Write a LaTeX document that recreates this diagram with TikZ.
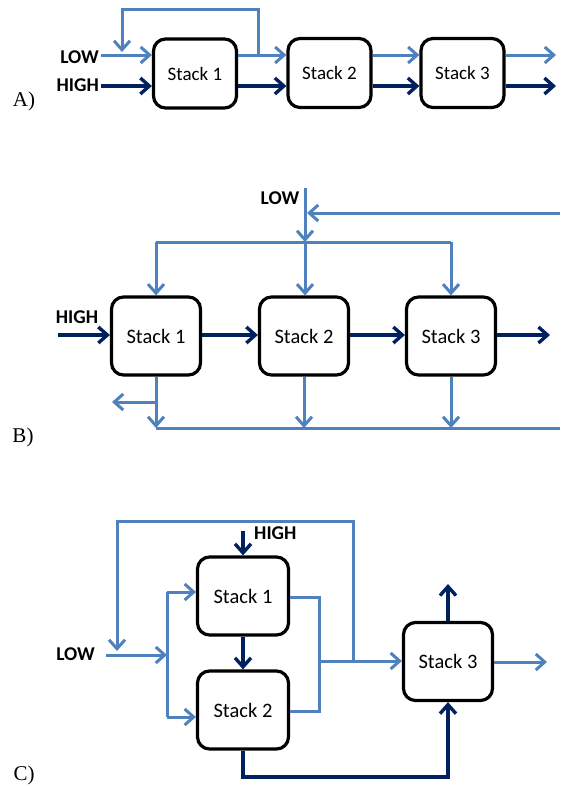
\documentclass[tikz,border=0pt]{standalone}
\usepackage{fontspec}
\setmainfont{Carlito}
\newfontfamily\tnr{Liberation Serif}
\usetikzlibrary{arrows.meta,calc}
\definecolor{lblue}{RGB}{79,129,189}
\definecolor{dnavy}{RGB}{0,32,96}
\begin{document}
\begin{tikzpicture}[x=1pt,y=-1pt,
  box/.style={draw=black,line width=3.2pt,rounded corners=12pt,fill=white,inner sep=0pt,font=\fontsize{20.5}{23}\selectfont},
  boxA/.style={box,minimum width=83pt,minimum height=69pt,font=\fontsize{19}{22}\selectfont},
  boxB/.style={box,minimum width=89pt,minimum height=78pt},
  lt/.style={draw=lblue,line width=3pt},
  dk/.style={draw=dnavy,line width=3.4pt},
  tip/.style={-{Straight Barb[length=9pt,width=16pt]}},
  lab/.style={font=\bfseries\fontsize{19.5}{22}\selectfont,inner sep=0pt},
  pan/.style={font=\tnr\fontsize{21}{24}\selectfont,inner sep=0pt}]
\useasboundingbox (0,0) rectangle (560,787);

% ---------------- Panel A ----------------
\node[pan] (pA) at (24,101) {A)};
\node[boxA] (A1) at (195,73.5) {Stack 1};
\node[boxA] (A2) at (329.5,73) {Stack 2};
\node[boxA] (A3) at (462.5,73) {Stack 3};
\node[lab,anchor=east] (lowAl) at (99,57) {LOW};
\node[lab,anchor=east] (highAl) at (99,85) {HIGH};
\coordinate (lowA) at (101,55);
\coordinate (highA) at (101,86);
\coordinate (outA) at (556,0);
\coordinate (fbR) at (258,9);
\coordinate (fbL) at (122,9);
\coordinate (fbE) at (122,52);
\draw[lt,tip] (lowA) -- (lowA -| A1.west);
\draw[dk,tip] (highA) -- (highA -| A1.west);
\draw[lt,tip] (lowA -| A1.east) -- (lowA -| A2.west);
\draw[dk,tip] (highA -| A1.east) -- (highA -| A2.west);
\draw[lt,tip] (lowA -| A2.east) -- (lowA -| A3.west);
\draw[dk,tip] (highA -| A2.east) -- (highA -| A3.west);
\draw[lt,tip] (lowA -| A3.east) -- (lowA -| outA);
\draw[dk,tip] (highA -| A3.east) -- (highA -| outA);
\draw[lt,tip] (lowA -| fbR) -- (fbR) -- (fbL) -- (fbE);

% ---------------- Panel B ----------------
\node[pan] (pB) at (23,437) {B)};
\node[boxB] (B1) at (156,336) {Stack 1};
\node[boxB] (B2) at (304,336) {Stack 2};
\node[boxB] (B3) at (451,336) {Stack 3};
\node[lab] (highBl) at (77,317) {HIGH};
\node[lab] (lowBl) at (280,198) {LOW};
\coordinate (hB) at (58,335);
\coordinate (oB) at (550,335);
\coordinate (lowB) at (305,188);
\coordinate (distB) at (305,242);
\coordinate (fbB) at (560,213);
\coordinate (fbBe) at (307,213);
\coordinate (botB) at (560,428);
\coordinate (leftB) at (112,402);
\draw[dk,tip] (hB) -- (hB -| B1.west);
\draw[dk,tip] (B1.east |- hB) -- (B2.west |- hB);
\draw[dk,tip] (B2.east |- hB) -- (B3.west |- hB);
\draw[dk,tip] (B3.east |- hB) -- (oB);
\draw[lt,tip] (lowB) -- (distB);
\draw[lt,tip] (fbB) -- (fbBe);
\draw[lt] (B1.north |- distB) -- (B3.north |- distB);
\draw[lt,tip] (B1.north |- distB) -- (B1.north);
\draw[lt,tip] (distB) -- (distB |- B2.north);
\draw[lt,tip] (B3.north |- distB) -- (B3.north);
\draw[lt] (B1.south |- botB) -- (botB);
\draw[lt,tip] (B1.south) -- (B1.south |- botB);
\draw[lt,tip] (B2.south) -- (B2.south |- botB);
\draw[lt,tip] (B3.south) -- (B3.south |- botB);
\draw[lt,tip] (B1.south |- leftB) -- (leftB);

% ---------------- Panel C ----------------
\node[pan] (pC) at (24,775) {C)};
\node[boxB,minimum width=91pt] (C1) at (243,596) {Stack 1};
\node[boxB,minimum width=91pt] (C2) at (243,710) {Stack 2};
\node[boxB] (C3) at (448,661.5) {Stack 3};
\node[lab,anchor=east] (lowCl) at (95,654) {LOW};
\node[lab,anchor=west] (highCl) at (254,533) {HIGH};
\coordinate (hC) at (243,531);
\coordinate (botC) at (448,777);
\coordinate (upC) at (448,584);
\coordinate (lowC) at (106,655);
\coordinate (dC) at (167,655);
\coordinate (dCt) at (167,592);
\coordinate (dCb) at (167,717);
\coordinate (tlC) at (117,521);
\coordinate (trC) at (353,521);
\coordinate (tlE) at (117,651);
\coordinate (mC) at (353,661);
\coordinate (jC) at (319,661);
\coordinate (r1) at (319,597);
\coordinate (r2) at (319,711);
\coordinate (oC) at (547,662);
\draw[dk,tip] (hC) -- (hC |- C1.north);
\draw[dk,tip] (C1.south) -- (C2.north);
\draw[dk,tip] (C2.south) -- (C2.south |- botC) -- (C3.south |- botC) -- (C3.south);
\draw[dk,tip] (C3.north) -- (C3.north |- upC);
\draw[lt,tip] (lowC) -- (dC);
\draw[lt] (dCt) -- (dCb);
\draw[lt,tip] (dCt) -- (dCt -| C1.west);
\draw[lt,tip] (dCb) -- (dCb -| C2.west);
\draw[lt,tip] (mC) -- (trC) -- (tlC) -- (tlE);
\draw[lt] (C1.east |- r1) -- (r1) -- (r2) -- (C2.east |- r2);
\draw[lt,tip] (jC) -- (jC -| C3.west);
\draw[lt,tip] (C3.east |- oC) -- (oC);
\end{tikzpicture}
\end{document}
